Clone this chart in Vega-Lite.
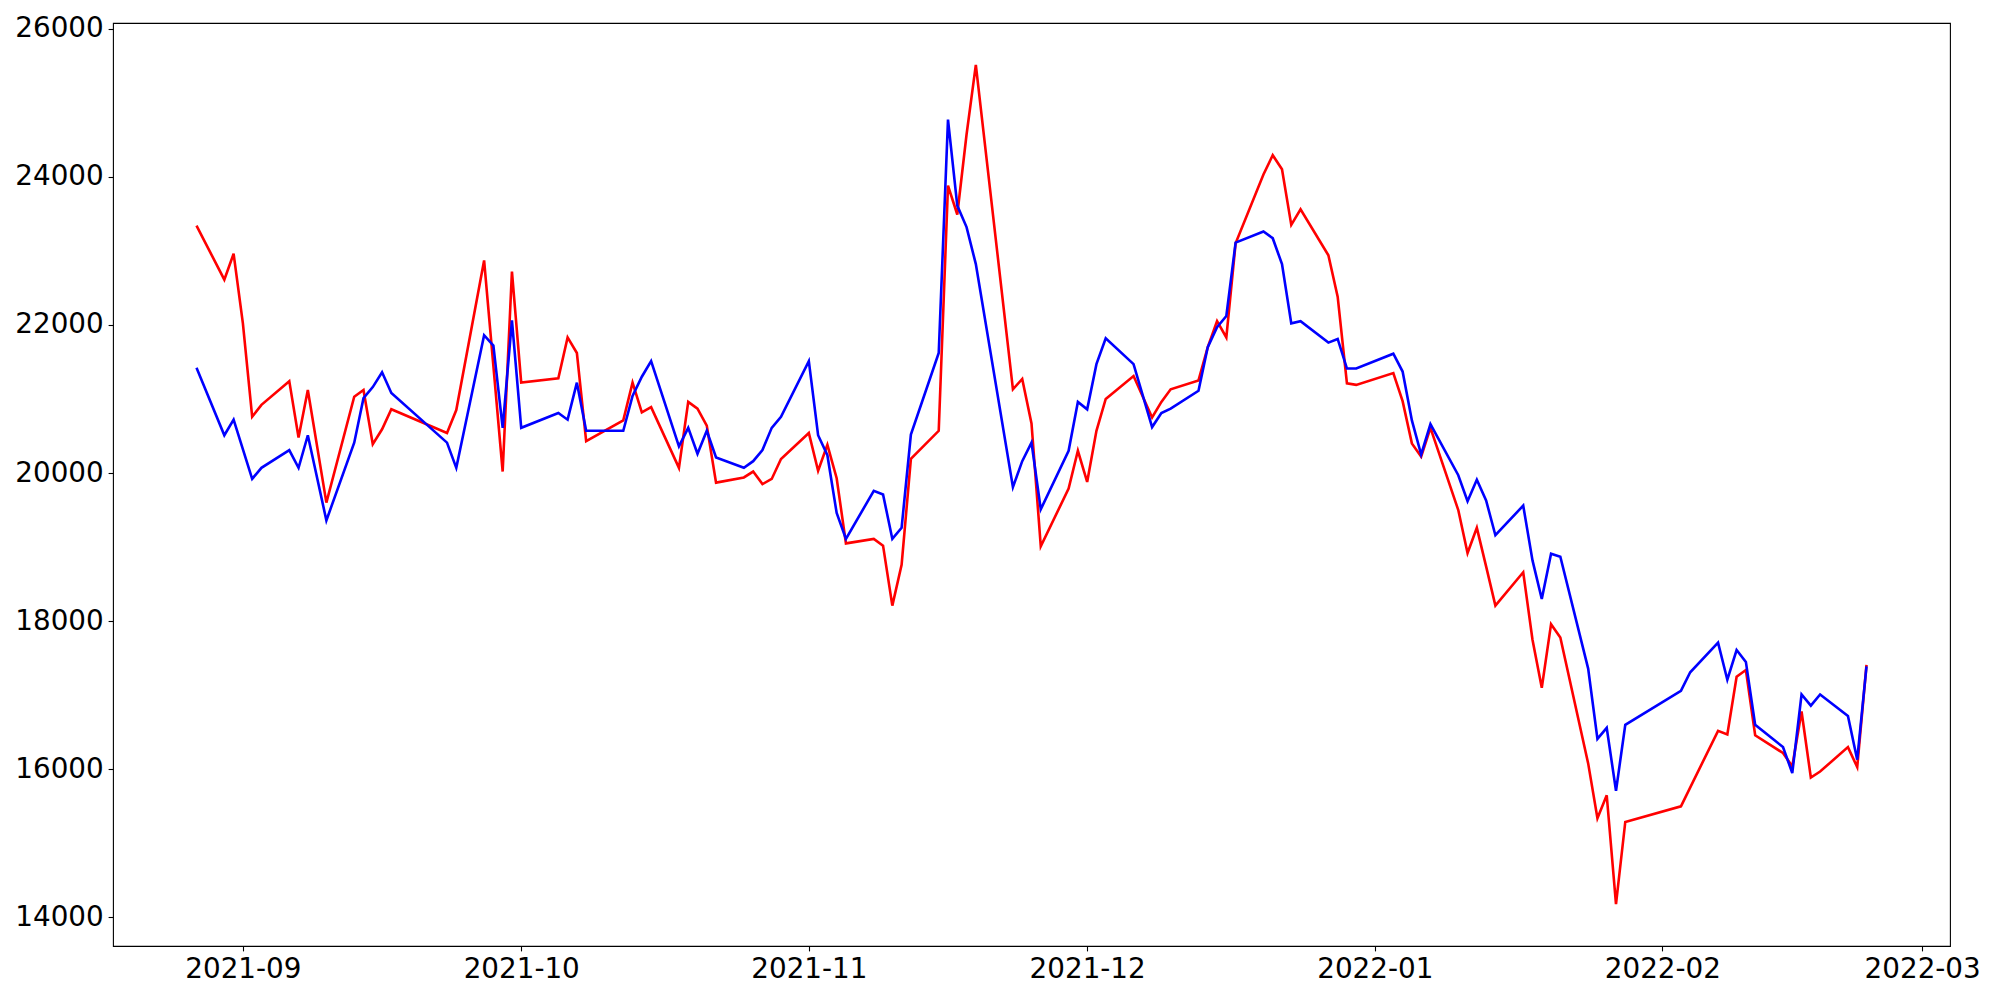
{
  "$schema": "https://vega.github.io/schema/vega-lite/v6.json",
  "width": 1837,
  "height": 923,
  "autosize": {"type": "none"},
  "padding": {"left": 113, "top": 23, "right": 50, "bottom": 54},
  "background": "white",
  "config": {
    "view": {"stroke": "black", "strokeWidth": 1.1},
    "font": "DejaVu Sans",
    "axis": {
      "grid": false,
      "domain": false,
      "tickColor": "black",
      "tickWidth": 1.1,
      "tickSize": 4.9,
      "labelPadding": 4.9,
      "labelFont": "DejaVu Sans",
      "labelFontSize": 27.8,
      "labelColor": "black",
      "title": null
    }
  },
  "datasets": {
    "red": [
      {"date": "2021-08-27", "value": 23340},
      {"date": "2021-08-30", "value": 22610},
      {"date": "2021-08-31", "value": 22960},
      {"date": "2021-09-01", "value": 22020},
      {"date": "2021-09-02", "value": 20760},
      {"date": "2021-09-03", "value": 20920},
      {"date": "2021-09-06", "value": 21240},
      {"date": "2021-09-07", "value": 20480},
      {"date": "2021-09-08", "value": 21120},
      {"date": "2021-09-10", "value": 19600},
      {"date": "2021-09-13", "value": 21030},
      {"date": "2021-09-14", "value": 21120},
      {"date": "2021-09-15", "value": 20390},
      {"date": "2021-09-16", "value": 20590},
      {"date": "2021-09-17", "value": 20860},
      {"date": "2021-09-23", "value": 20540},
      {"date": "2021-09-24", "value": 20850},
      {"date": "2021-09-27", "value": 22870},
      {"date": "2021-09-29", "value": 20020},
      {"date": "2021-09-30", "value": 22720},
      {"date": "2021-10-01", "value": 21220},
      {"date": "2021-10-05", "value": 21280},
      {"date": "2021-10-06", "value": 21830},
      {"date": "2021-10-07", "value": 21620},
      {"date": "2021-10-08", "value": 20430},
      {"date": "2021-10-12", "value": 20710},
      {"date": "2021-10-13", "value": 21220},
      {"date": "2021-10-14", "value": 20820},
      {"date": "2021-10-15", "value": 20890},
      {"date": "2021-10-18", "value": 20070},
      {"date": "2021-10-19", "value": 20960},
      {"date": "2021-10-20", "value": 20870},
      {"date": "2021-10-21", "value": 20640},
      {"date": "2021-10-22", "value": 19870},
      {"date": "2021-10-25", "value": 19940},
      {"date": "2021-10-26", "value": 20020},
      {"date": "2021-10-27", "value": 19850},
      {"date": "2021-10-28", "value": 19920},
      {"date": "2021-10-29", "value": 20190},
      {"date": "2021-11-01", "value": 20540},
      {"date": "2021-11-02", "value": 20030},
      {"date": "2021-11-03", "value": 20380},
      {"date": "2021-11-04", "value": 19930},
      {"date": "2021-11-05", "value": 19050},
      {"date": "2021-11-08", "value": 19110},
      {"date": "2021-11-09", "value": 19020},
      {"date": "2021-11-10", "value": 18210},
      {"date": "2021-11-11", "value": 18760},
      {"date": "2021-11-12", "value": 20190},
      {"date": "2021-11-15", "value": 20570},
      {"date": "2021-11-16", "value": 23880},
      {"date": "2021-11-17", "value": 23490},
      {"date": "2021-11-18", "value": 24570},
      {"date": "2021-11-19", "value": 25510},
      {"date": "2021-11-23", "value": 21130},
      {"date": "2021-11-24", "value": 21270},
      {"date": "2021-11-25", "value": 20670},
      {"date": "2021-11-26", "value": 19010},
      {"date": "2021-11-29", "value": 19790},
      {"date": "2021-11-30", "value": 20300},
      {"date": "2021-12-01", "value": 19880},
      {"date": "2021-12-02", "value": 20570},
      {"date": "2021-12-03", "value": 21000},
      {"date": "2021-12-06", "value": 21310},
      {"date": "2021-12-08", "value": 20750},
      {"date": "2021-12-09", "value": 20960},
      {"date": "2021-12-10", "value": 21130},
      {"date": "2021-12-13", "value": 21250},
      {"date": "2021-12-14", "value": 21700},
      {"date": "2021-12-15", "value": 22050},
      {"date": "2021-12-16", "value": 21830},
      {"date": "2021-12-17", "value": 23100},
      {"date": "2021-12-20", "value": 24030},
      {"date": "2021-12-21", "value": 24290},
      {"date": "2021-12-22", "value": 24100},
      {"date": "2021-12-23", "value": 23350},
      {"date": "2021-12-24", "value": 23560},
      {"date": "2021-12-27", "value": 22940},
      {"date": "2021-12-28", "value": 22380},
      {"date": "2021-12-29", "value": 21210},
      {"date": "2021-12-30", "value": 21190},
      {"date": "2022-01-03", "value": 21350},
      {"date": "2022-01-04", "value": 20970},
      {"date": "2022-01-05", "value": 20400},
      {"date": "2022-01-06", "value": 20220},
      {"date": "2022-01-07", "value": 20610},
      {"date": "2022-01-10", "value": 19500},
      {"date": "2022-01-11", "value": 18920},
      {"date": "2022-01-12", "value": 19260},
      {"date": "2022-01-13", "value": 18740},
      {"date": "2022-01-14", "value": 18210},
      {"date": "2022-01-17", "value": 18660},
      {"date": "2022-01-18", "value": 17750},
      {"date": "2022-01-19", "value": 17100},
      {"date": "2022-01-20", "value": 17960},
      {"date": "2022-01-21", "value": 17780},
      {"date": "2022-01-24", "value": 16080},
      {"date": "2022-01-25", "value": 15340},
      {"date": "2022-01-26", "value": 15650},
      {"date": "2022-01-27", "value": 14180},
      {"date": "2022-01-28", "value": 15290},
      {"date": "2022-02-03", "value": 15500},
      {"date": "2022-02-07", "value": 16520},
      {"date": "2022-02-08", "value": 16470},
      {"date": "2022-02-09", "value": 17250},
      {"date": "2022-02-10", "value": 17340},
      {"date": "2022-02-11", "value": 16460},
      {"date": "2022-02-14", "value": 16220},
      {"date": "2022-02-15", "value": 16040},
      {"date": "2022-02-16", "value": 16780},
      {"date": "2022-02-17", "value": 15890},
      {"date": "2022-02-18", "value": 15970},
      {"date": "2022-02-21", "value": 16300},
      {"date": "2022-02-22", "value": 16030},
      {"date": "2022-02-23", "value": 17410}
    ],
    "blue": [
      {"date": "2021-08-27", "value": 21420},
      {"date": "2021-08-30", "value": 20510},
      {"date": "2021-08-31", "value": 20720},
      {"date": "2021-09-02", "value": 19920},
      {"date": "2021-09-03", "value": 20070},
      {"date": "2021-09-06", "value": 20310},
      {"date": "2021-09-07", "value": 20070},
      {"date": "2021-09-08", "value": 20510},
      {"date": "2021-09-10", "value": 19360},
      {"date": "2021-09-13", "value": 20410},
      {"date": "2021-09-14", "value": 21010},
      {"date": "2021-09-15", "value": 21160},
      {"date": "2021-09-16", "value": 21360},
      {"date": "2021-09-17", "value": 21080},
      {"date": "2021-09-23", "value": 20410},
      {"date": "2021-09-24", "value": 20070},
      {"date": "2021-09-27", "value": 21860},
      {"date": "2021-09-28", "value": 21720},
      {"date": "2021-09-29", "value": 20610},
      {"date": "2021-09-30", "value": 22060},
      {"date": "2021-10-01", "value": 20610},
      {"date": "2021-10-05", "value": 20810},
      {"date": "2021-10-06", "value": 20720},
      {"date": "2021-10-07", "value": 21220},
      {"date": "2021-10-08", "value": 20570},
      {"date": "2021-10-12", "value": 20570},
      {"date": "2021-10-13", "value": 21040},
      {"date": "2021-10-14", "value": 21300},
      {"date": "2021-10-15", "value": 21510},
      {"date": "2021-10-18", "value": 20360},
      {"date": "2021-10-19", "value": 20610},
      {"date": "2021-10-20", "value": 20260},
      {"date": "2021-10-21", "value": 20570},
      {"date": "2021-10-22", "value": 20210},
      {"date": "2021-10-25", "value": 20070},
      {"date": "2021-10-26", "value": 20160},
      {"date": "2021-10-27", "value": 20310},
      {"date": "2021-10-28", "value": 20610},
      {"date": "2021-10-29", "value": 20760},
      {"date": "2021-11-01", "value": 21510},
      {"date": "2021-11-02", "value": 20510},
      {"date": "2021-11-03", "value": 20240},
      {"date": "2021-11-04", "value": 19460},
      {"date": "2021-11-05", "value": 19110},
      {"date": "2021-11-08", "value": 19760},
      {"date": "2021-11-09", "value": 19710},
      {"date": "2021-11-10", "value": 19110},
      {"date": "2021-11-11", "value": 19260},
      {"date": "2021-11-12", "value": 20520},
      {"date": "2021-11-15", "value": 21620},
      {"date": "2021-11-16", "value": 24770},
      {"date": "2021-11-17", "value": 23610},
      {"date": "2021-11-18", "value": 23320},
      {"date": "2021-11-19", "value": 22820},
      {"date": "2021-11-23", "value": 19810},
      {"date": "2021-11-24", "value": 20160},
      {"date": "2021-11-25", "value": 20410},
      {"date": "2021-11-26", "value": 19510},
      {"date": "2021-11-29", "value": 20300},
      {"date": "2021-11-30", "value": 20960},
      {"date": "2021-12-01", "value": 20860},
      {"date": "2021-12-02", "value": 21470},
      {"date": "2021-12-03", "value": 21820},
      {"date": "2021-12-06", "value": 21470},
      {"date": "2021-12-08", "value": 20620},
      {"date": "2021-12-09", "value": 20810},
      {"date": "2021-12-10", "value": 20870},
      {"date": "2021-12-13", "value": 21110},
      {"date": "2021-12-14", "value": 21700},
      {"date": "2021-12-15", "value": 21970},
      {"date": "2021-12-16", "value": 22120},
      {"date": "2021-12-17", "value": 23110},
      {"date": "2021-12-20", "value": 23260},
      {"date": "2021-12-21", "value": 23170},
      {"date": "2021-12-22", "value": 22820},
      {"date": "2021-12-23", "value": 22020},
      {"date": "2021-12-24", "value": 22050},
      {"date": "2021-12-27", "value": 21760},
      {"date": "2021-12-28", "value": 21810},
      {"date": "2021-12-29", "value": 21410},
      {"date": "2021-12-30", "value": 21410},
      {"date": "2022-01-03", "value": 21610},
      {"date": "2022-01-04", "value": 21370},
      {"date": "2022-01-05", "value": 20710},
      {"date": "2022-01-06", "value": 20250},
      {"date": "2022-01-07", "value": 20660},
      {"date": "2022-01-10", "value": 19970},
      {"date": "2022-01-11", "value": 19620},
      {"date": "2022-01-12", "value": 19910},
      {"date": "2022-01-13", "value": 19630},
      {"date": "2022-01-14", "value": 19160},
      {"date": "2022-01-17", "value": 19560},
      {"date": "2022-01-18", "value": 18820},
      {"date": "2022-01-19", "value": 18300},
      {"date": "2022-01-20", "value": 18910},
      {"date": "2022-01-21", "value": 18870},
      {"date": "2022-01-24", "value": 17360},
      {"date": "2022-01-25", "value": 16410},
      {"date": "2022-01-26", "value": 16560},
      {"date": "2022-01-27", "value": 15710},
      {"date": "2022-01-28", "value": 16600},
      {"date": "2022-02-03", "value": 17060},
      {"date": "2022-02-04", "value": 17310},
      {"date": "2022-02-07", "value": 17710},
      {"date": "2022-02-08", "value": 17210},
      {"date": "2022-02-09", "value": 17610},
      {"date": "2022-02-10", "value": 17450},
      {"date": "2022-02-11", "value": 16600},
      {"date": "2022-02-14", "value": 16300},
      {"date": "2022-02-15", "value": 15950},
      {"date": "2022-02-16", "value": 17010},
      {"date": "2022-02-17", "value": 16860},
      {"date": "2022-02-18", "value": 17010},
      {"date": "2022-02-21", "value": 16720},
      {"date": "2022-02-22", "value": 16130},
      {"date": "2022-02-23", "value": 17390}
    ]
  },
  "encoding": {
    "x": {
      "field": "date",
      "type": "temporal",
      "scale": {
        "type": "utc",
        "domain": [
          {"year": 2021, "month": 8, "date": 18, "utc": true},
          {"year": 2022, "month": 3, "date": 4, "utc": true}
        ]
      },
      "axis": {
        "labelExpr": "utcFormat(datum.value, '%Y-%m')",
        "labelAngle": 0,
        "values": [
          {"year": 2021, "month": 9, "date": 1, "utc": true},
          {"year": 2021, "month": 10, "date": 1, "utc": true},
          {"year": 2021, "month": 11, "date": 1, "utc": true},
          {"year": 2021, "month": 12, "date": 1, "utc": true},
          {"year": 2022, "month": 1, "date": 1, "utc": true},
          {"year": 2022, "month": 2, "date": 1, "utc": true},
          {"year": 2022, "month": 3, "date": 1, "utc": true}
        ]
      }
    },
    "y": {
      "field": "value",
      "type": "quantitative",
      "scale": {"domain": [13615, 26075], "nice": false, "zero": false},
      "axis": {
        "format": "d",
        "values": [14000, 16000, 18000, 20000, 22000, 24000, 26000]
      }
    }
  },
  "layer": [
    {
      "data": {"name": "red"},
      "mark": {"type": "line", "color": "#ff0000", "strokeWidth": 2.6, "clip": true}
    },
    {
      "data": {"name": "blue"},
      "mark": {"type": "line", "color": "#0000ff", "strokeWidth": 2.6, "clip": true}
    }
  ]
}
